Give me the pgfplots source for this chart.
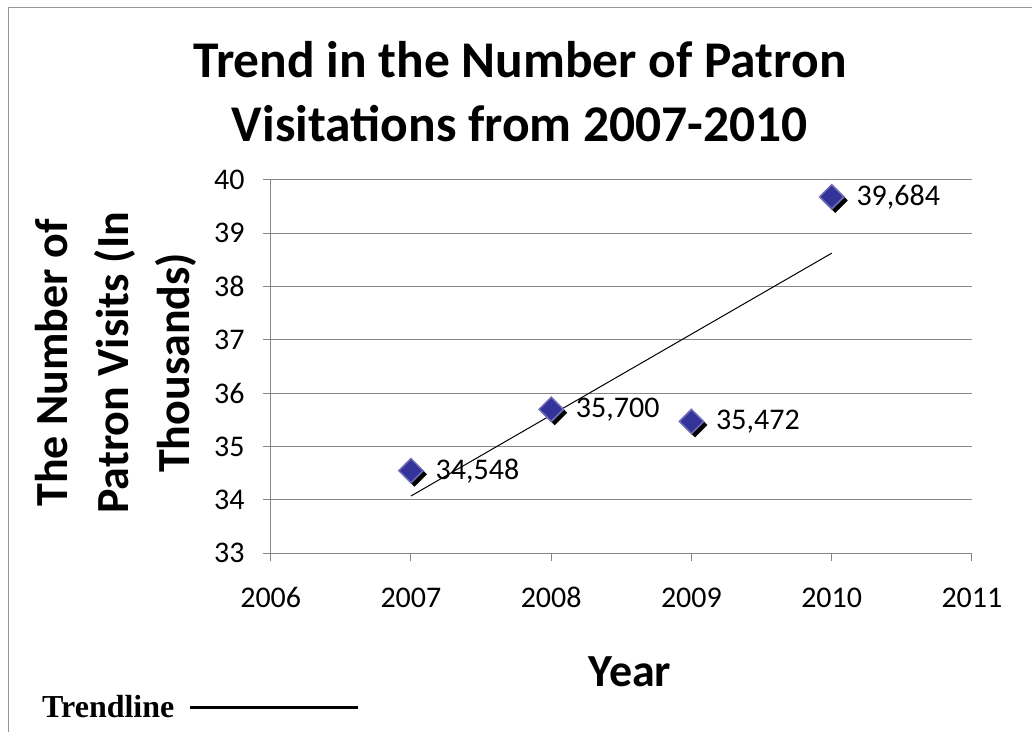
\documentclass[border=0pt]{standalone}
\usepackage{fontspec}
\setmainfont{Carlito}
\newfontfamily\serifbold{Liberation Serif}
\usepackage{pgfplots}
\pgfplotsset{compat=1.18}
\usepackage{pgfplotstable}

\definecolor{gridgray}{RGB}{134,134,134}
\definecolor{markblue}{RGB}{51,51,153}
\definecolor{markedge}{RGB}{112,112,184}
\definecolor{framegray}{RGB}{150,150,150}

% patron visits, in thousands
\pgfplotstableread{
year visits label
2007 34.548 34,548
2008 35.700 35,700
2009 35.472 35,472
2010 39.684 39,684
}\visits
% linear trendline end points
\pgfplotstableread{
year fit
2007 34.074
2010 38.628
}\trend

\begin{document}
\begin{tikzpicture}[x=1bp,y=1bp]
\draw[framegray, line width=1.2bp] (8.5,-20) -- (8.5,724.5) -- (1060,724.5);
\begin{axis}[
  at={(270.7bp,178.7bp)}, anchor=south west,
  scale only axis, width=701.3bp, height=373.3bp,
  xmin=2006, xmax=2011, ymin=33, ymax=40,
  xtick={2006,...,2011}, ytick={33,...,40},
  axis x line*=bottom, axis y line*=left,
  axis line style={gridgray, line width=1bp},
  tick style={gridgray, line width=1bp},
  tick align=outside, major tick length=8bp,
  ymajorgrids, grid style={gridgray, line width=1bp},
  /pgf/number format/assume math mode=true,
  /pgf/number format/1000 sep={},
  ticklabel style={font=\fontsize{30bp}{35bp}\selectfont, inner sep=0pt},
  xticklabel style={anchor=base, yshift=-46bp},
  yticklabel style={anchor=east, xshift=-18bp},
  clip=false,
  title={Trend in the Number of Patron\\Visitations from 2007-2010},
  title style={at={(axis description cs:0.3555,1.0884)}, anchor=base,
    align=center, font=\fontsize{51.5bp}{64bp}\selectfont\bfseries},
  xlabel={Year},
  xlabel style={at={(axis description cs:0.5123,-0.358)}, anchor=base,
    font=\fontsize{46bp}{55bp}\selectfont\bfseries},
  ylabel={The Number of\\Patron Visits (In\\Thousands)},
  ylabel style={at={(axis description cs:-0.1151,0.51)}, anchor=base,
    align=center, font=\fontsize{46bp}{61bp}\selectfont\bfseries},
]
% marker shadow
\addplot[only marks, mark=square*, mark size=8.6bp,
  mark options={xshift=3.5bp, yshift=-3.5bp, rotate=45, fill=black, draw=black}]
  table[x=year, y=visits] {\visits};
% markers with value labels
\addplot[only marks, mark=square*, mark size=8.6bp,
  mark options={fill=markblue, draw=markedge, line width=1.5bp, rotate=45},
  point meta=explicit symbolic,
  nodes near coords,
  nodes near coords style={anchor=west, inner sep=0pt, xshift=24bp,
    font=\fontsize{30bp}{35bp}\selectfont}]
  table[x=year, y=visits, meta=label] {\visits};
% trendline
\addplot[black, line width=1bp] table[x=year, y=fit] {\trend};
\end{axis}
\node[anchor=base west, inner sep=0pt, font=\fontsize{32bp}{38bp}\selectfont\serifbold\bfseries]
  at (42,14) {Trendline};
\draw[black, line width=3bp] (190,24) -- (358,24);
\pgfresetboundingbox
\useasboundingbox (0,0) rectangle (1032,732);
\end{tikzpicture}
\end{document}
